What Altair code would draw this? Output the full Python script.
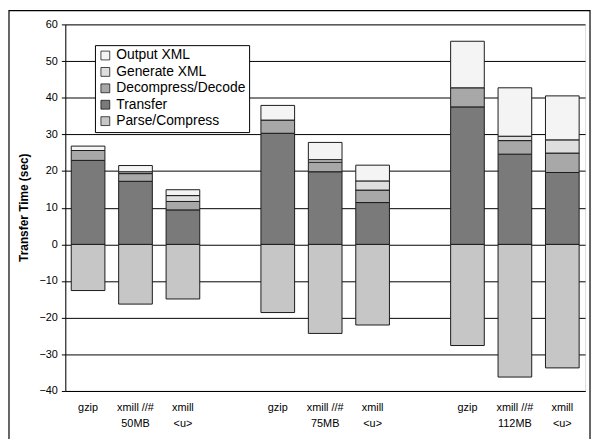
import altair as alt
import pandas as pd

# x slots (11 positions: 3 bars, gap, 3 bars, gap, 3 bars)
slots = ["gzip_50", "xmill_50", "xmillu_50", "gap1",
         "gzip_75", "xmill_75", "xmillu_75", "gap2",
         "gzip_112", "xmill_112", "xmillu_112"]
slot_labels = [["gzip"], ["xmill //#", "50MB"], ["xmill", "<u>"], [""],
               ["gzip"], ["xmill //#", "75MB"], ["xmill", "<u>"], [""],
               ["gzip"], ["xmill //#", "112MB"], ["xmill", "<u>"]]

bars = ["gzip_50", "xmill_50", "xmillu_50",
        "gzip_75", "xmill_75", "xmillu_75",
        "gzip_112", "xmill_112", "xmillu_112"]

series = ["Output XML", "Generate XML", "Decompress/Decode", "Transfer", "Parse/Compress"]
parse_compress = [-12.6, -16.3, -14.9, -18.6, -24.3, -22.0, -27.6, -36.2, -33.7]
transfer = [22.9, 17.2, 9.4, 30.3, 19.8, 11.4, 37.5, 24.6, 19.6]
decompress = [2.7, 2.1, 2.3, 3.6, 2.6, 3.4, 5.2, 3.7, 5.3]
generate = [0.0, 0.5, 1.6, 0.0, 0.7, 2.5, 0.0, 1.2, 3.6]
output = [1.2, 1.7, 1.6, 4.0, 4.7, 4.3, 12.7, 13.2, 12.0]

colors = ["#f4f4f4", "#dedede", "#a8a8a8", "#7a7a7a", "#c6c6c6"]

values_by_series = {
    "Parse/Compress": (parse_compress, 0),
    "Transfer": (transfer, 1),
    "Decompress/Decode": (decompress, 2),
    "Generate XML": (generate, 3),
    "Output XML": (output, 4),
}

rows = []
for name, (vals, order) in values_by_series.items():
    for b, v in zip(bars, vals):
        if v != 0:
            rows.append({"slot": b, "series": name, "value": v, "ord": order})
df = pd.DataFrame(rows)

label_map = "{" + ",".join(
    "'" + s + "':[" + ",".join("'" + t + "'" for t in lab) + "]"
    for s, lab in zip(slots, slot_labels)
) + "}"

font = "Liberation Sans"

border = alt.Chart(pd.DataFrame({"a": [0]})).mark_rect(
    filled=False, stroke="black", strokeWidth=1.2
).encode(
    x=alt.value(-57), x2=alt.value(531), y=alt.value(-14), y2=alt.value(470)
)

bars_chart = alt.Chart(df).mark_bar(stroke="#1a1a1a", strokeWidth=1).encode(
    x=alt.X("slot:N",
            scale=alt.Scale(domain=slots, paddingInner=0.29, paddingOuter=0.125),
            axis=alt.Axis(title=None, labelAngle=0, ticks=False, grid=False,
                          domainColor="black", labelColor="black",
                          labelFont=font, labelFontSize=11, labelPadding=11,
                          labelLineHeight=16, labelBaseline="top",
                          labelExpr=label_map + "[datum.value]")),
    y=alt.Y("value:Q", stack="zero",
            scale=alt.Scale(domain=[-40, 60], nice=False),
            axis=alt.Axis(title="Transfer Time (sec)", values=list(range(-40, 61, 10)),
                          grid=True, gridColor="black", gridWidth=1,
                          domainColor="black", tickColor="black", tickSize=4,
                          labelColor="black", labelFont=font, labelFontSize=11,
                          labelPadding=4, titleFont=font, titleFontSize=12,
                          titleFontWeight="bold", titleColor="black",
                          titleX=-42, titleY=185, titleBaseline="middle")),
    fill=alt.Fill("series:N",
                  scale=alt.Scale(domain=series, range=colors),
                  legend=alt.Legend(title=None, orient="none", legendX=30, legendY=21,
                                    symbolType="square", symbolSize=80,
                                    symbolStrokeColor="black", symbolStrokeWidth=0.7,
                                    labelFont=font, labelFontSize=14, labelColor="black",
                                    labelOffset=4, rowPadding=2.6, padding=3.5,
                                    strokeColor="black", fillColor="white")),
    order=alt.Order("ord:Q"),
)

chart = alt.layer(border, bars_chart).properties(
    width=526, height=371,
    autosize=alt.AutoSizeParams(type="none"),
    padding={"left": 58, "top": 14, "right": 6, "bottom": 46},
).configure_view(stroke="#888888", strokeWidth=1).configure(background="white")

chart.save("out.html", embed_options={"renderer": "svg", "actions": False})
